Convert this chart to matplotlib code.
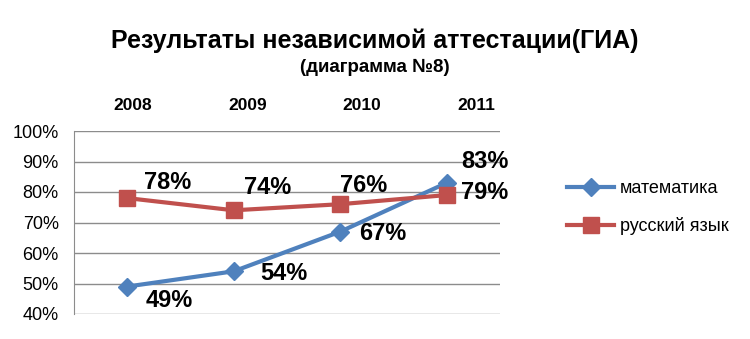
import matplotlib
matplotlib.use("Agg")
import matplotlib.pyplot as plt
from matplotlib.ticker import PercentFormatter

years = ["2008", "2009", "2010", "2011"]
math_vals = [49, 54, 67, 83]
rus_vals = [78, 74, 76, 79]
series_names = ["математика", "русский язык"]
yticks = [40, 50, 60, 70, 80, 90, 100]

blue = "#4F81BD"
red = "#C0504D"
grid = "#8C8C8C"
font = ["Liberation Sans", "DejaVu Sans"]
plt.rcParams['font.family'] = font

fig = plt.figure(figsize=(7.5, 3.39), dpi=100)
ax = fig.add_axes([74/750, 1-314/339, (500-74)/750, (314-131)/339])

x = list(range(len(years)))
ax.plot(x, math_vals, color=blue, lw=3, marker="D", ms=9, label=series_names[0], zorder=3)
ax.plot(x, rus_vals, color=red, lw=3, marker="s", ms=11, label=series_names[1], zorder=3)

ax.set_xlim(-0.5, 3.5)
ax.set_ylim(40, 100)
ax.set_yticks(yticks)
ax.yaxis.set_major_formatter(PercentFormatter(decimals=0))
ax.tick_params(axis="y", length=0, labelsize=13, pad=11)
ax.set_xticks([])
ax.grid(axis="y", color=grid, lw=1)
ax.set_axisbelow(True)
for s in ["top", "right", "bottom"]:
    ax.spines[s].set_visible(False)
ax.spines["left"].set_color(grid)

# top category labels (offset as in reference)
tx = ax.twiny()
tx.set_xlim(-0.516, 3.21)
tx.set_xticks(x)
tx.set_xticklabels(years, fontsize=12.5, fontweight="bold")
tx.tick_params(axis="x", length=0, pad=13)
for s in tx.spines.values():
    s.set_visible(False)

math_off = [(42, -14), (50, -2), (43, -2), (38, 21)]
rus_off = [(40, 16), (34, 23), (23, 19), (38, 3)]
for i, v in enumerate(math_vals):
    ax.annotate(f"{v}%", (x[i], v), xytext=math_off[i], textcoords="offset pixels",
                ha="center", va="center", fontsize=17, fontweight="bold")
for i, v in enumerate(rus_vals):
    ax.annotate(f"{v}%", (x[i], v), xytext=rus_off[i], textcoords="offset pixels",
                ha="center", va="center", fontsize=17, fontweight="bold")

fig.text(0.5, 1-41/339, "Результаты независимой аттестации(ГИА)", ha="center", va="center",
         fontsize=18, fontweight="bold")
fig.text(0.5, 1-67/339, "(диаграмма №8)", ha="center", va="center",
         fontsize=13.5, fontweight="bold")

fig.legend(loc="upper left", bbox_to_anchor=(560/750, 1-173/339), frameon=False,
           fontsize=13, handlelength=2.6, handletextpad=0.3, labelspacing=1.1,
           borderaxespad=0)

fig.savefig("out.png", dpi=100)
